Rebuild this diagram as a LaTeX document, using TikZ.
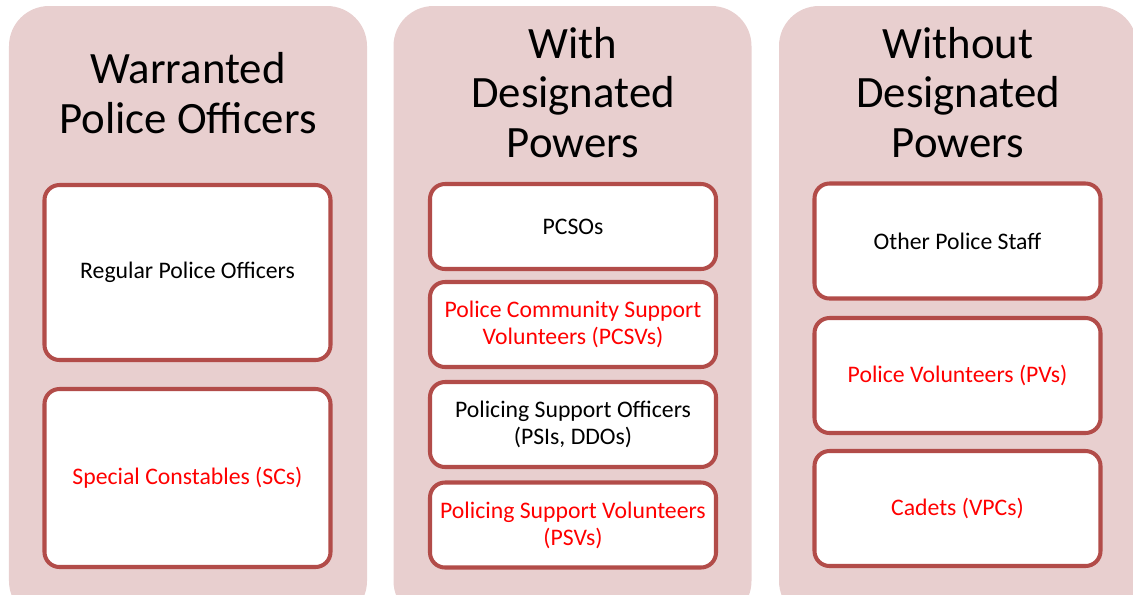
\documentclass[tikz,border=0pt]{standalone}
\usepackage{fontspec}
\setmainfont{Carlito}
\usepackage{tikz}
\usetikzlibrary{positioning}
\definecolor{staffPink}{RGB}{232,207,207}
\definecolor{staffBorder}{RGB}{178,76,73}
\definecolor{staffRed}{RGB}{255,0,0}

\begin{document}
\begin{tikzpicture}[
  panel/.style={rectangle,rounded corners=0.8cm,fill=staffPink,
                minimum width=7.16cm,minimum height=12.3cm,inner sep=0pt},
  heading/.style={align=center,anchor=base,inner sep=0pt,
                  font=\fontsize{25.5}{28.1}\selectfont},
  role/.style={rectangle,rounded corners=0.3cm,draw=staffBorder,line width=2.3pt,
               fill=white,minimum width=5.72cm,minimum height=#1,align=center,
               font=\fontsize{13.5}{15.3}\selectfont},
  role/.default=1.70cm,
  vol/.style={text=staffRed}
]
\useasboundingbox (0,0) rectangle (22.66,-11.88);
% Panels
\node[panel] (P1) at (3.76,-6.27) {};
\node[panel] (P2) at (11.45,-6.27) {};
\node[panel] (P3) at (19.16,-6.27) {};
% Headings (anchored on the last line)
\node[heading] (H1) at (3.76,-2.66) {Warranted\\Police Officers};
\node[heading] (H2) at (11.46,-3.14) {With\\Designated\\Powers};
\node[heading] (H3) at (19.16,-3.14) {Without\\Designated\\Powers};
% Warranted
\node[role=3.50cm] (W1) at (3.75,-5.45) {Regular Police Officers};
\node[role=3.56cm,vol] (W2) at (3.75,-9.56) {Special Constables (SCs)};
% With designated powers
\node[role] (D1) at (11.46,-4.53) {PCSOs};
\node[role,vol] (D2) at (11.46,-6.49) {Police Community Support\\Volunteers (PCSVs)};
\node[role] (D3) at (11.46,-8.49) {Policing Support Officers\\(PSIs, DDOs)};
\node[role,vol] (D4) at (11.46,-10.50) {Policing Support Volunteers\\(PSVs)};
% Without designated powers
\node[role=2.30cm] (N1) at (19.15,-4.82) {Other Police Staff};
\node[role=2.30cm,vol] (N2) at (19.15,-7.51) {Police Volunteers (PVs)};
\node[role=2.30cm,vol] (N3) at (19.15,-10.17) {Cadets (VPCs)};
\end{tikzpicture}
\end{document}
